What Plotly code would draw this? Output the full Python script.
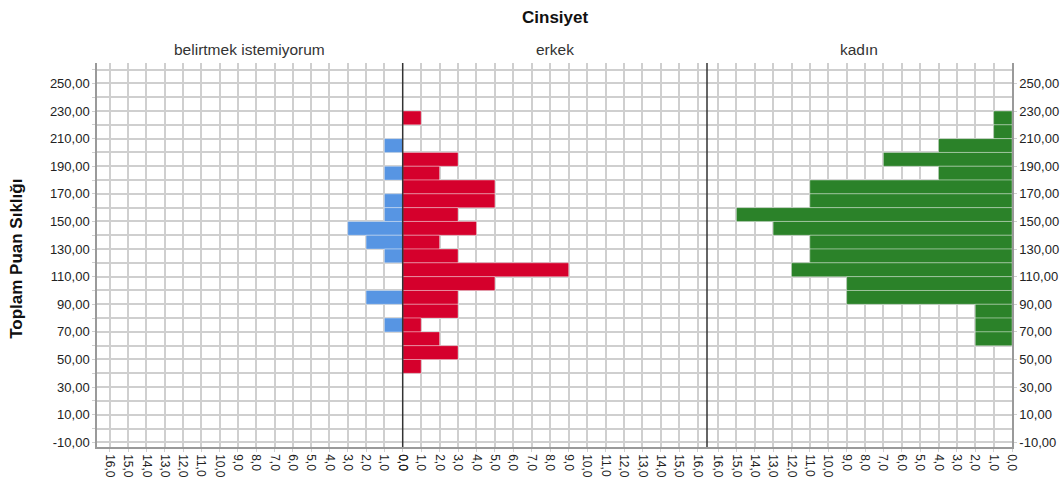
import plotly.graph_objects as go

# ---- data ----
score_bins = [225, 215, 205, 195, 185, 175, 165, 155, 145, 135, 125, 115, 105, 95, 85, 75, 65, 55, 45]
belirtmek = [0, 0, 1, 0, 1, 0, 1, 1, 3, 2, 1, 0, 0, 2, 0, 1, 0, 0, 0]
erkek = [1, 0, 0, 3, 2, 5, 5, 3, 4, 2, 3, 9, 5, 3, 3, 1, 2, 3, 1]
kadin = [1, 1, 4, 7, 4, 11, 11, 15, 13, 11, 11, 12, 9, 9, 2, 2, 2, 0, 0]
panel_names = ["belirtmek istemiyorum", "erkek", "kadın"]
y_tick_values = [-10, 10, 30, 50, 70, 90, 110, 130, 150, 170, 190, 210, 230, 250]
x_tick_values = list(range(0, 17))

y_tick_text = [f"{v:.2f}".replace(".", ",") for v in y_tick_values]
x_tick_text = [f"{v:.1f}".replace(".", ",") for v in x_tick_values]

FONT = "Arial, Liberation Sans, sans-serif"
GRID = "#cfcfcf"
AXIS = "#9a9a9a"
TXT = "#222222"

fig = go.Figure()
bar_line = dict(color="rgba(255,255,255,0.35)", width=1)
fig.add_trace(go.Bar(y=score_bins, x=belirtmek, orientation="h", width=10,
                     marker=dict(color="#5795e3", line=bar_line),
                     xaxis="x", yaxis="y", showlegend=False))
fig.add_trace(go.Bar(y=score_bins, x=erkek, orientation="h", width=10,
                     marker=dict(color="#d5002c", line=bar_line),
                     xaxis="x2", yaxis="y", showlegend=False))
fig.add_trace(go.Bar(y=score_bins, x=kadin, orientation="h", width=10,
                     marker=dict(color="#2b8229", line=bar_line),
                     xaxis="x3", yaxis="y", showlegend=False))
# invisible trace so the right-hand y axis is drawn
fig.add_trace(go.Scatter(x=[None], y=[None], xaxis="x3", yaxis="y2",
                         showlegend=False, hoverinfo="skip"))

yrange = [-13.4, 264.8]

def xax(domain, rng):
    return dict(domain=domain, range=rng, anchor="y",
                tickmode="array", tickvals=x_tick_values, ticktext=x_tick_text,
                tickangle=90, tickfont=dict(family=FONT, size=12, color=TXT),
                showgrid=True, gridcolor=GRID, gridwidth=1.5,
                zeroline=False, showline=True, linecolor=AXIS, linewidth=1.5,
                ticks="outside", ticklen=3, tickcolor=GRID, automargin=False,
                fixedrange=True)

d1 = (402.7 - 97) / 915
d2 = (707 - 97) / 915

fig.update_layout(
    width=1060, height=477,
    margin=dict(l=97, r=48, t=63, b=30),
    paper_bgcolor="white", plot_bgcolor="white",
    barmode="overlay",
    xaxis=xax([0, d1], [16.7, 0]),
    xaxis2=xax([d1, d2], [0, 16.5]),
    xaxis3=xax([d2, 1], [16.6, 0]),
    yaxis=dict(range=yrange, anchor="x", tickmode="array",
               tickvals=y_tick_values, ticktext=y_tick_text,
               tickfont=dict(family=FONT, size=13, color=TXT),
               showgrid=True, gridcolor=GRID, gridwidth=1.5,
               minor=dict(tickmode="linear", tick0=0, dtick=10, showgrid=True,
                          gridcolor=GRID, gridwidth=1.5, ticks="outside",
                          ticklen=3, tickcolor=GRID),
               zeroline=False, showline=True, linecolor=AXIS, linewidth=1.5,
               ticks="outside", ticklen=3, tickcolor=GRID, automargin=False,
               fixedrange=True),
    yaxis2=dict(range=yrange, overlaying="y", side="right", anchor="x3",
                tickmode="array", tickvals=y_tick_values, ticktext=y_tick_text,
                tickfont=dict(family=FONT, size=13, color=TXT),
                showgrid=False, zeroline=False, showline=True,
                linecolor=AXIS, linewidth=1.5, ticks="outside", ticklen=3,
                tickcolor=GRID, automargin=False, fixedrange=True),
    shapes=[
        dict(type="line", xref="x2 domain", yref="y domain", x0=0, x1=0, y0=0, y1=1,
             line=dict(color="#333333", width=1.5), layer="above"),
        dict(type="line", xref="x3 domain", yref="y domain", x0=0, x1=0, y0=0, y1=1,
             line=dict(color="#333333", width=1.5), layer="above"),
    ],
)

centers = [d1 / 2, (d1 + d2) / 2, (d2 + 1) / 2]
annotations = []
for name, cx in zip(panel_names, centers):
    annotations.append(dict(text=name, x=cx, y=1.036, xref="paper", yref="paper",
                            xanchor="center", yanchor="middle", showarrow=False,
                            font=dict(family=FONT, size=15.5, color="#333333")))
annotations.append(dict(text="<b>Cinsiyet</b>", x=0.5, y=1.118, xref="paper", yref="paper",
                        xanchor="center", yanchor="middle", showarrow=False,
                        font=dict(family=FONT, size=17, color="#111111")))
annotations.append(dict(text="<b>Toplam Puan Sıklığı</b>", x=(17 - 97) / 915, y=0.49,
                        xref="paper", yref="paper", xanchor="center", yanchor="middle",
                        textangle=-90, showarrow=False,
                        font=dict(family=FONT, size=17, color="#111111")))
fig.update_layout(annotations=annotations)

fig.write_html("out.html", config={"displayModeBar": False},
               post_script="document.body.style.margin='0';document.body.style.overflow='hidden';")
